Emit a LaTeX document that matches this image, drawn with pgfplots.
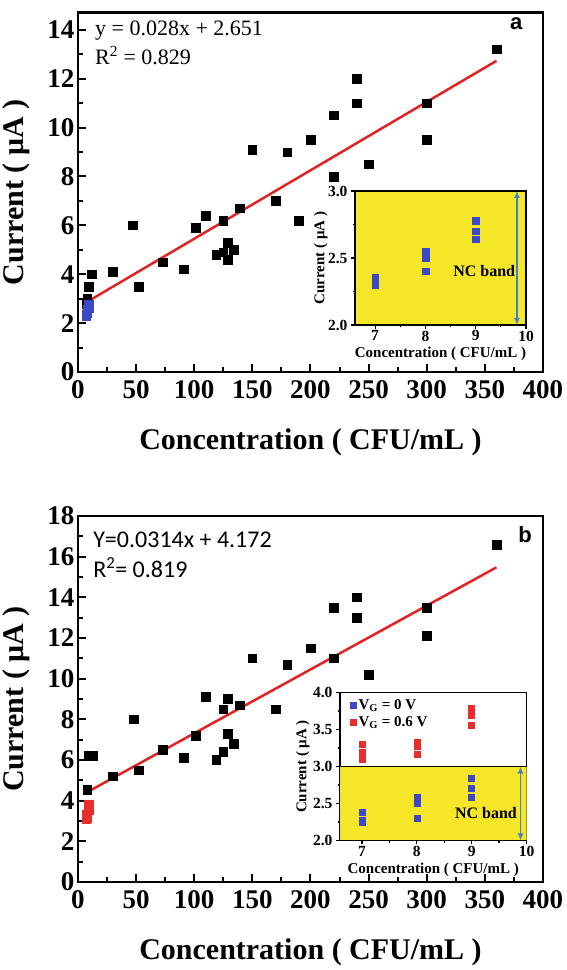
\documentclass[border=0pt]{standalone}
\usepackage{fontspec}
\setmainfont{Liberation Serif}
\newfontfamily\arialfont{Liberation Sans}
\newfontfamily\calibrifont{Carlito}
\usepackage{pgfplots}
\pgfplotsset{compat=1.18}
\usetikzlibrary{arrows.meta}

\definecolor{fitred}{RGB}{226,35,35}
\definecolor{ptblue}{RGB}{60,72,200}
\definecolor{ptred}{RGB}{232,45,45}
\definecolor{ncyellow}{RGB}{245,230,40}
\definecolor{arrblue}{RGB}{60,130,210}

\pgfplotsset{
  mainax/.style={
    scale only axis, width=465pt,
    xmin=0, xmax=400, xtick={0,50,...,400},
    minor x tick num=1, minor y tick num=1,
    tick align=inside, tick pos=left,
    major tick length=8pt, minor tick length=5pt,
    major tick style={line width=2pt, black},
    minor tick style={line width=2pt, black},
    axis line style={line width=2.5pt},
    /pgf/number format/assume math mode=true,
    ticklabel style={font=\fontsize{27}{27}\selectfont\bfseries},
    xticklabel style={yshift=-6pt, inner sep=2pt},
    label style={font=\fontsize{30}{30}\selectfont\bfseries},
    xlabel={Concentration ( CFU/mL )},
    ylabel={Current ( μA )},
    xlabel style={at={(axis description cs:0.5,0)}, anchor=center, yshift=-70pt},
    ylabel style={at={(axis description cs:-0.133,0.5)}, anchor=center},
    clip=false,
  },
  insetax/.style={
    scale only axis,
    axis background/.style={fill=white},
    xmin=6.6, xmax=10, xtick={7,8,9,10},
    minor x tick num=1, minor y tick num=1,
    tick align=outside, tick pos=left,
    major tick length=4pt, minor tick length=2.5pt,
    major tick style={line width=1.2pt, black},
    minor tick style={line width=1.2pt, black},
    axis line style={line width=1.3pt},
    /pgf/number format/assume math mode=true,
    ticklabel style={font=\fontsize{15.5}{15.5}\selectfont\bfseries},
    xticklabel style={inner sep=1.5pt},
    yticklabel style={/pgf/number format/.cd, fixed, fixed zerofill, precision=1},
    label style={font=\fontsize{15}{15}\selectfont\bfseries},
    xlabel={Concentration ( CFU/mL )},
    ylabel={Current ( μA )},
    xlabel style={at={(axis description cs:0.5,0)}, anchor=center, yshift=-29pt},
  },
}

\begin{document}
\begin{tikzpicture}
\useasboundingbox (0,0) rectangle (566pt,970pt);

% ---------------- panel a ----------------
\begin{axis}[mainax, at={(78pt,598pt)}, anchor=south west,
  height=359.3pt, ymin=0, ymax=14.7, ytick={0,2,...,14}]
\addplot[only marks, mark=square*, mark size=4.3pt, black] coordinates {
(360,13.2)(240,12)(240,11)(300,11)(300,9.5)(220,10.5)(200,9.5)(180,9.0)
(150,9.1)(250,8.5)(220,8.0)(170,7.0)(190,6.2)(139,6.7)(110,6.4)(125,6.2)
(101,5.9)(47,6.0)(129,5.3)(134,5.0)(119,4.8)(125,4.9)(129,4.6)(73,4.5)
(91,4.2)(30,4.1)(12,4.0)(52,3.5)(9,3.5)(8,3.0)(7,2.8)
};
\addplot[only marks, mark=square*, mark size=4.3pt, ptblue] coordinates {
(7,2.355)(7,2.30)(8,2.545)(8,2.52)(8,2.50)(8,2.40)(9,2.777)(9,2.70)(9,2.64)
};
\addplot[fitred, line width=2.5pt] coordinates {(5,2.791)(360,12.731)};
\node[anchor=west, inner sep=0pt, font=\fontsize{22}{22}\selectfont] at (axis cs:14.6,13.96) {y = 0.028x + 2.651};
\node[anchor=west, inner sep=0pt, font=\fontsize{22}{22}\selectfont] at (axis cs:14.6,12.94) {R\textsuperscript{2} = 0.829};
\node[inner sep=0pt, font=\fontsize{22}{22}\arialfont\bfseries] at (axis cs:377,14.25) {a};
\end{axis}

\begin{axis}[insetax, at={(355pt,645pt)}, anchor=south west,
  width=171pt, height=134pt, ymin=2, ymax=3, ytick={2,2.5,3},
  ylabel style={at={(axis description cs:-0.2,0.5)}, anchor=center},
  axis background/.style={fill=ncyellow}]
\addplot[only marks, mark=square*, mark size=3.3pt, ptblue] coordinates {
(7,2.355)(7,2.30)(8,2.545)(8,2.52)(8,2.50)(8,2.40)(9,2.777)(9,2.70)(9,2.64)
};
\draw[arrblue, line width=1.5pt, {Latex[length=7pt,width=6pt]}-{Latex[length=7pt,width=6pt]}] (axis cs:9.82,3) -- (axis cs:9.82,2);
\node[font=\fontsize{16}{16}\selectfont\bfseries] at (axis cs:9.17,2.40) {NC band};
\end{axis}

% ---------------- panel b ----------------
\begin{axis}[mainax, at={(78pt,88pt)}, anchor=south west,
  height=366pt, ymin=0, ymax=18, ytick={0,2,...,18}]
\addplot[only marks, mark=square*, mark size=4.3pt, black] coordinates {
(360,16.6)(240,14.0)(220,13.5)(240,13.0)(300,13.5)(300,12.1)(200,11.5)
(150,11.0)(220,11.0)(180,10.7)(250,10.2)(110,9.1)(129,9.0)(139,8.7)
(125,8.5)(170,8.5)(48,8.0)(101,7.2)(129,7.3)(134,6.8)(73,6.5)(125,6.4)
(91,6.1)(119,6.0)(9,6.2)(13,6.2)(30,5.2)(52,5.5)(8,4.55)
};
\addplot[only marks, mark=square*, mark size=4.3pt, ptred] coordinates {
(7,3.30)(7,3.19)(7,3.14)(7,3.10)(8,3.33)(8,3.28)(8,3.16)(9,3.79)(9,3.70)(9,3.56)
};
\addplot[fitred, line width=2.5pt] coordinates {(5,4.329)(360,15.476)};
\node[anchor=west, inner sep=0pt, font=\fontsize{24}{24}\calibrifont] at (axis cs:13,16.83) {Y=0.0314x + 4.172};
\node[anchor=west, inner sep=0pt, font=\fontsize{24}{24}\calibrifont] at (axis cs:13,15.48) {R\textsuperscript{2}= 0.819};
\node[inner sep=0pt, font=\fontsize{22}{22}\arialfont\bfseries] at (axis cs:384.5,17.07) {b};
\end{axis}

\begin{axis}[insetax, at={(340pt,129.5pt)}, anchor=south west,
  width=186.5pt, height=148pt, ymin=2, ymax=4, ytick={2,2.5,...,4},
  ylabel style={at={(axis description cs:-0.2,0.5)}, anchor=center},
  legend style={at={(0.04,0.98)}, anchor=north west, draw=none, fill=none,
    font=\fontsize{15}{15}\selectfont\bfseries, row sep=1pt},
  legend cell align=left]
\addplot[fill=ncyellow, draw=none, forget plot] coordinates {(6.6,3)(10,3)} \closedcycle;
\addplot[only marks, mark=square*, mark size=3pt, ptblue] coordinates {
(7,2.38)(7,2.27)(7,2.25)(8,2.59)(8,2.55)(8,2.50)(8,2.30)(9,2.84)(9,2.70)(9,2.58)
};
\addlegendentry{V\textsubscript{G} = 0 V}
\addplot[only marks, mark=square*, mark size=3pt, ptred] coordinates {
(7,3.30)(7,3.19)(7,3.14)(7,3.10)(8,3.33)(8,3.28)(8,3.16)(9,3.79)(9,3.70)(9,3.56)
};
\addlegendentry{V\textsubscript{G} = 0.6 V}
\draw[black, line width=1pt] (axis cs:6.6,3) -- (axis cs:10,3);
\draw[arrblue, line width=1.5pt, {Latex[length=7pt,width=6pt]}-{Latex[length=7pt,width=6pt]}] (axis cs:9.89,3) -- (axis cs:9.89,2);
\node[font=\fontsize{16}{16}\selectfont\bfseries] at (axis cs:9.26,2.37) {NC band};
\end{axis}
\end{tikzpicture}
\end{document}
